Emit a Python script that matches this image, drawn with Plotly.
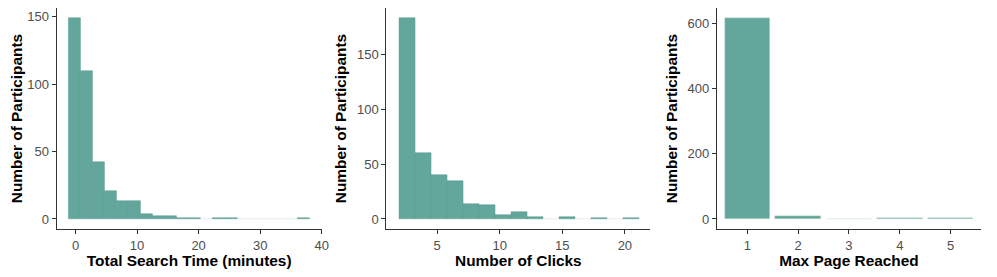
import plotly.graph_objects as go

# ---- data ----
time_bin_start = -1.13
time_bin_width = 1.957
time_counts = [149, 110, 42, 21, 13, 13, 4, 2, 2, 1, 1, 0, 1, 1, 0, 0, 0, 0, 0, 1]

clicks_bin_start = 1.93
clicks_bin_width = 1.28
clicks_counts = [183, 60, 40, 35, 14, 13, 4, 6, 2, 0, 2, 0, 1, 0, 1]

pages = [1, 2, 3, 4, 5]
page_counts = [616, 10, 1, 2, 4]

FILL = "#63a69b"
EDGE = "#5a9a90"
ZERO_EDGE = "#e3e9e8"
FONT = "Liberation Sans, Arial, sans-serif"

def centers(start, width, n):
    return [start + width * (i + 0.5) for i in range(n)]

def edges(counts):
    return [ZERO_EDGE if c == 0 else EDGE for c in counts]

fig = go.Figure()
fig.add_trace(go.Bar(x=centers(time_bin_start, time_bin_width, len(time_counts)), y=time_counts,
                     width=time_bin_width,
                     marker=dict(color=FILL, line=dict(color=edges(time_counts), width=0.5)),
                     xaxis="x", yaxis="y", showlegend=False))
fig.add_trace(go.Bar(x=centers(clicks_bin_start, clicks_bin_width, len(clicks_counts)), y=clicks_counts,
                     width=clicks_bin_width,
                     marker=dict(color=FILL, line=dict(color=edges(clicks_counts), width=0.5)),
                     xaxis="x2", yaxis="y2", showlegend=False))
fig.add_trace(go.Bar(x=pages, y=page_counts, width=0.9,
                     marker=dict(color=FILL, line=dict(color="#d5e6e2", width=0.4)),
                     xaxis="x3", yaxis="y3", showlegend=False))

OFF = 8  # page body margin
W, H = 997 - 2 * OFF, 277 - 2 * OFF
panels = [(57, 324), (389, 655), (722, 988)]
top_px, bot_px = 8, 229
ydom = [(H - (bot_px - OFF)) / H, (H - (top_px - OFF)) / H]

axis_common = dict(showline=True, linecolor="#333333", linewidth=1, ticks="outside",
                   ticklen=4, tickcolor="#333333", showgrid=False, zeroline=False,
                   tickfont=dict(family=FONT, size=13, color="#4d4d4d"))
title_font = dict(family=FONT, size=15.4, color="#000000")

xranges = [[-3.06, 40.0], [0.93, 22.04], [0.4, 5.6]]
yranges = [[-7.45, 156.6], [-9.15, 192.2], [-30.8, 646.8]]
xtitles = ["<b>Total Search Time (minutes)</b>", "<b>Number of Clicks</b>", "<b>Max Page Reached</b>"]
xticks = [[0, 10, 20, 30, 40], [5, 10, 15, 20], pages]
yticks = [[0, 50, 100, 150], [0, 50, 100, 150], [0, 200, 400, 600]]

layout = dict(width=W, height=H, margin=dict(l=0, r=0, t=0, b=0),
              plot_bgcolor="white", paper_bgcolor="white", bargap=0)
for i in range(3):
    sfx = "" if i == 0 else str(i + 1)
    layout["xaxis" + sfx] = dict(axis_common,
                                 domain=[(panels[i][0] - OFF) / W, (panels[i][1] - OFF) / W],
                                 range=xranges[i], tickvals=xticks[i], anchor="y" + sfx,
                                 title=dict(text=xtitles[i], font=title_font, standoff=3))
    layout["yaxis" + sfx] = dict(axis_common, domain=ydom, range=yranges[i], tickvals=yticks[i],
                                 anchor="x" + sfx,
                                 title=dict(text="<b>Number of Participants</b>", font=title_font, standoff=6))
fig.update_layout(**layout)
fig.write_html("out.html")
